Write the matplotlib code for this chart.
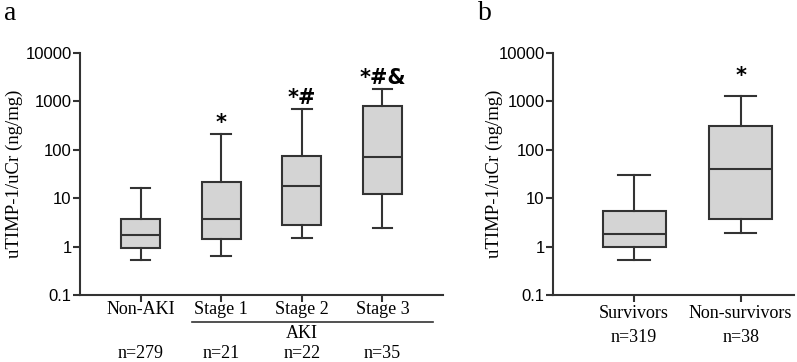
import matplotlib
matplotlib.use("Agg")
import matplotlib.pyplot as plt
from matplotlib.ticker import FixedLocator, NullLocator
from matplotlib.lines import Line2D
import matplotlib.transforms as mtransforms

# ---- data ----
a_labels = ["Non-AKI", "Stage 1", "Stage 2", "Stage 3"]
a_n = ["n=279", "n=21", "n=22", "n=35"]
a_whislo = [0.54, 0.64, 1.53, 2.4]
a_q1 = [0.92, 1.45, 2.75, 12.2]
a_med = [1.7, 3.7, 18, 71]
a_q3 = [3.8, 22, 76, 810]
a_whishi = [16, 210, 690, 1800]
a_marks = ["", "*", "*#", "*#&"]

b_labels = ["Survivors", "Non-survivors"]
b_n = ["n=319", "n=38"]
b_whislo = [0.54, 1.9]
b_q1 = [0.97, 3.65]
b_med = [1.85, 40]
b_q3 = [5.4, 313]
b_whishi = [30, 1290]
b_marks = ["", "*"]

yticks = [0.1, 1, 10, 100, 1000, 10000]
yticklabels = ["0.1", "1", "10", "100", "1000", "10000"]

W, H = 797, 362
fig = plt.figure(figsize=(W / 100, H / 100), dpi=100)

LC = "#333333"
FILL = "#d4d4d4"
serif = "Liberation Serif"
sans = "Liberation Sans"
AX_BOTTOM, AX_TOP = 295, 53
AX_H = AX_BOTTOM - AX_TOP


def mkstats(lo, q1, med, q3, hi):
    return [dict(whislo=a, q1=b, med=c, q3=d, whishi=e, fliers=[])
            for a, b, c, d, e in zip(lo, q1, med, q3, hi)]


def ypix(py):
    # axes-fraction y for a pixel row below the axes
    return -(py - AX_BOTTOM) / AX_H


def setup(ax, stats, positions, width, xlim, labx):
    ax.bxp(stats, positions=positions, widths=width, patch_artist=True,
           showfliers=False,
           boxprops=dict(facecolor=FILL, edgecolor=LC, linewidth=1.5),
           medianprops=dict(color=LC, linewidth=1.5),
           whiskerprops=dict(color=LC, linewidth=1.5),
           capprops=dict(color=LC, linewidth=1.5),
           capwidths=width * 0.5)
    ax.set_yscale("log")
    ax.set_ylim(0.1, 10000)
    ax.set_xlim(*xlim)
    ax.yaxis.set_major_locator(FixedLocator(yticks))
    ax.yaxis.set_minor_locator(NullLocator())
    ax.set_yticklabels(yticklabels, fontfamily=sans, fontsize=12)
    ax.set_xticks(positions)
    ax.set_xticklabels([""] * len(positions))
    for s in ["top", "right"]:
        ax.spines[s].set_visible(False)
    for s in ["left", "bottom"]:
        ax.spines[s].set_linewidth(1.5)
        ax.spines[s].set_color(LC)
    ax.tick_params(direction="out", length=5, width=1.5, color=LC, pad=1)
    ax.set_ylabel("uTIMP-1/uCr (ng/mg)", fontfamily=serif, fontsize=13.5)
    ax.yaxis.set_label_coords(labx, 0.5)


# ---- panel a ----
axa = fig.add_axes([80 / W, 1 - AX_BOTTOM / H, (443 - 80) / W, AX_H / H])
pos_a = [1, 2, 3, 4]
setup(axa, mkstats(a_whislo, a_q1, a_med, a_q3, a_whishi), pos_a, 0.48,
      (0.25, 4.75), (23 - 80) / 363)
trans = mtransforms.blended_transform_factory(axa.transData, axa.transAxes)
for p, lab, n, m, hi in zip(pos_a, a_labels, a_n, a_marks, a_whishi):
    axa.text(p, ypix(310), lab, transform=trans, ha="center", va="center",
             fontfamily=serif, fontsize=13)
    axa.text(p, ypix(354), n, transform=trans, ha="center", va="center",
             fontfamily=serif, fontsize=13)
    if m:
        axa.annotate(m, xy=(p, hi), xycoords="data", xytext=(0, 1),
                     textcoords="offset points", ha="center", va="bottom",
                     fontfamily="DejaVu Sans", fontweight="bold", fontsize=15)
axa.add_line(Line2D([1.64, 4.62], [ypix(322), ypix(322)], transform=trans,
                    color=LC, lw=1.2, clip_on=False))
axa.text(3, ypix(334), "AKI", transform=trans, ha="center", va="center",
         fontfamily=serif, fontsize=13)

fig.text(4 / W, 1 - 13 / H, "a", fontfamily=serif, fontsize=20, ha="left", va="center")

# ---- panel b ----
axb = fig.add_axes([553 / W, 1 - AX_BOTTOM / H, (794 - 553) / W, AX_H / H])
pos_b = [1, 2]
setup(axb, mkstats(b_whislo, b_q1, b_med, b_q3, b_whishi), pos_b, 0.59,
      (0.24, 2.5), (503 - 553) / 241)
transb = mtransforms.blended_transform_factory(axb.transData, axb.transAxes)
for p, lab, n, m, hi in zip(pos_b, b_labels, b_n, b_marks, b_whishi):
    axb.text(p, ypix(313), lab, transform=transb, ha="center", va="center",
             fontfamily=serif, fontsize=13)
    axb.text(p, ypix(338), n, transform=transb, ha="center", va="center",
             fontfamily=serif, fontsize=13)
    if m:
        axb.annotate(m, xy=(p, hi), xycoords="data", xytext=(0, 7),
                     textcoords="offset points", ha="center", va="bottom",
                     fontfamily="DejaVu Sans", fontweight="bold", fontsize=15)

fig.text(478 / W, 1 - 13 / H, "b", fontfamily=serif, fontsize=20, ha="left", va="center")

fig.savefig("out.png", dpi=100)
